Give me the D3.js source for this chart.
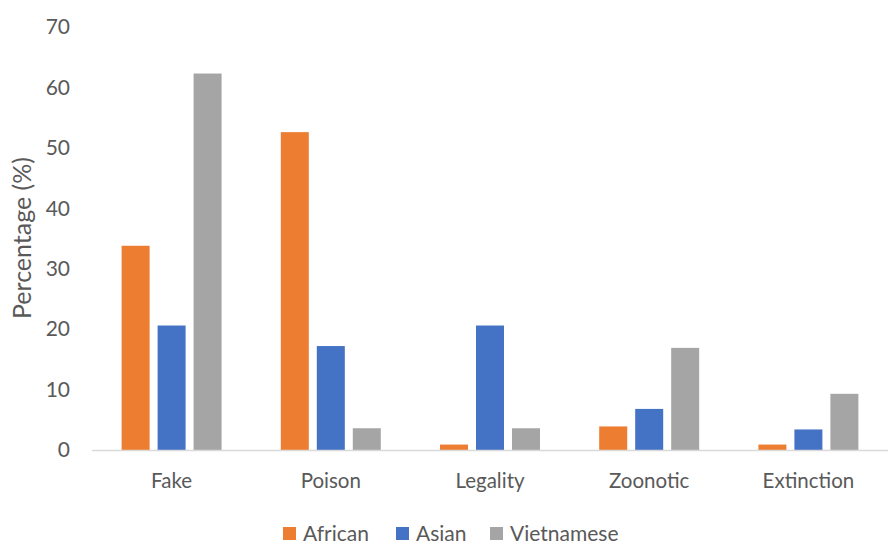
<!DOCTYPE html>
<html><head><meta charset="utf-8">
<script src="https://cdn.jsdelivr.net/npm/d3@7"></script>
<style>body{margin:0;background:#fff}svg{display:block}</style>
</head><body><svg id="c" width="891" height="544"></svg>
<script>
const categories = ["Fake","Poison","Legality","Zoonotic","Extinction"];
const seriesNames = ["African","Asian","Vietnamese"];
const african = [33.8, 52.6, 0.9, 3.9, 0.9];
const asian = [20.6, 17.2, 20.6, 6.8, 3.4];
const vietnamese = [62.3, 3.6, 3.6, 16.9, 9.3];
const yTicks = [0,10,20,30,40,50,60,70];
const colors = ["#ED7D31","#4472C4","#A5A5A5"];

const series = [african, asian, vietnamese];
const svg = d3.select("#c");
const font = "Lato, 'Open Sans', sans-serif";
const txt = "#595959";
const mLeft = 92, mRight = 888, mTop = 27, mBottom = 450;

const x = d3.scaleBand().domain(categories).range([mLeft, mRight]).paddingInner(0.372).paddingOuter(0.186);
const x1 = d3.scaleBand().domain(seriesNames).range([0, x.bandwidth()]).paddingInner(0.222);
const y = d3.scaleLinear().domain([0,70]).range([mBottom, mTop]);

// y tick labels
svg.append("g").selectAll("text").data(yTicks).join("text")
  .attr("x", 70).attr("y", d => y(d)).attr("dy","0.35em")
  .attr("text-anchor","end").attr("font-family",font).attr("font-size",21).attr("fill",txt)
  .text(d => d);

// bars
categories.forEach((c,i) => {
  svg.append("g").selectAll("rect").data(seriesNames).join("rect")
    .attr("x", s => x(c) + x1(s)).attr("width", x1.bandwidth())
    .attr("y", (s,j) => y(series[j][i])).attr("height", (s,j) => y(0) - y(series[j][i]))
    .attr("fill", (s,j) => colors[j]);
});

// x axis line
svg.append("line").attr("x1", mLeft).attr("x2", mRight).attr("y1", y(0)+0.5).attr("y2", y(0)+0.5)
  .attr("stroke","#D9D9D9").attr("stroke-width",1.5);

// x labels
svg.append("g").selectAll("text").data(categories).join("text")
  .attr("x", d => x(d) + x.bandwidth()/2).attr("y", 481).attr("dy","0.35em")
  .attr("text-anchor","middle").attr("font-family",font).attr("font-size",20.5).attr("fill",txt)
  .text(d => d);

// y axis title
svg.append("text").attr("transform","translate(22,238) rotate(-90)")
  .attr("text-anchor","middle").attr("dy","0.35em").attr("font-family",font).attr("font-size",25).attr("fill",txt)
  .text("Percentage (%)");

// legend
const legX = [283, 396, 490];
const leg = svg.append("g").selectAll("g").data(seriesNames).join("g")
  .attr("transform",(d,i)=>`translate(${legX[i]},533.5)`);
leg.append("rect").attr("x",0).attr("y",-6.5).attr("width",13).attr("height",13).attr("fill",(d,i)=>colors[i]);
leg.append("text").attr("x",20).attr("y",7.5).attr("font-family",font).attr("font-size",21).attr("fill",txt).text(d=>d);
</script></body></html>
